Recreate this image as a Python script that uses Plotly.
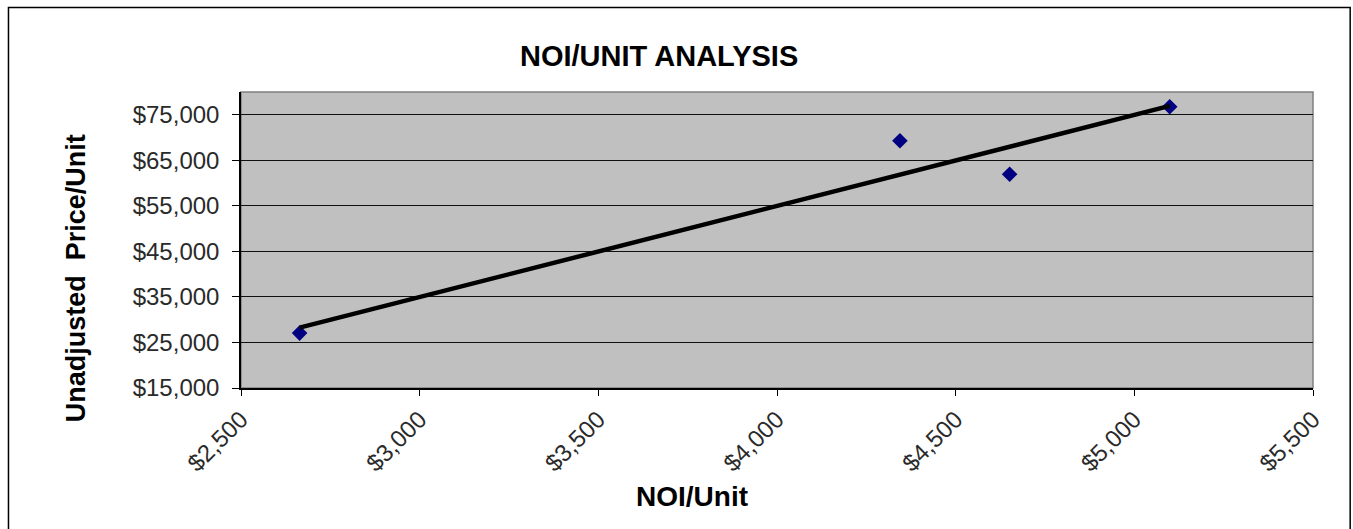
import numpy as np
import plotly.graph_objects as go

# Data
noi_per_unit = [2664, 4344, 4651, 5099]
price_per_unit = [27060, 69300, 61930, 76750]

x_ticks = [2500, 3000, 3500, 4000, 4500, 5000, 5500]
x_tick_labels = ["$2,500", "$3,000", "$3,500", "$4,000", "$4,500", "$5,000", "$5,500"]
y_ticks = [15000, 25000, 35000, 45000, 55000, 65000, 75000]
y_tick_labels = ["$15,000", "$25,000", "$35,000", "$45,000", "$55,000", "$65,000", "$75,000"]

# Linear trend line (least squares, as in the spreadsheet's trendline)
slope, intercept = np.polyfit(noi_per_unit, price_per_unit, 1)
trend_x = [min(noi_per_unit), max(noi_per_unit)]
trend_y = [slope * v + intercept for v in trend_x]

W, H = 1353, 529
L, R, T, B = 240.7, 1313.5, 91.7, 388.3

fig = go.Figure()
fig.add_trace(go.Scatter(
    x=noi_per_unit, y=price_per_unit, mode="markers",
    marker=dict(symbol="diamond", size=12, color="#000080", line=dict(width=0)),
    showlegend=False, hoverinfo="x+y"))
fig.add_trace(go.Scatter(
    x=trend_x, y=trend_y, mode="lines",
    line=dict(color="black", width=4.5),
    showlegend=False, hoverinfo="skip"))

tickfont = dict(family="Liberation Sans, Arial, sans-serif", size=24, color="#2a2a2a")

fig.update_layout(
    width=W, height=H, autosize=False,
    margin=dict(l=L, r=W - R, t=T, b=H - B, pad=0),
    paper_bgcolor="white", plot_bgcolor="#C0C0C0",
    xaxis=dict(range=[2500, 5500], tickvals=x_ticks, ticktext=x_tick_labels,
               tickangle=-45, tickfont=tickfont, ticks="outside", ticklen=6,
               tickcolor="black", showgrid=False, zeroline=False,
               showline=True, linecolor="black", linewidth=1.5),
    yaxis=dict(range=[15000, 80000], tickvals=y_ticks, ticktext=y_tick_labels,
               tickfont=tickfont, ticks="outside", ticklen=7, tickcolor="black",
               ticklabelstandoff=8,
               showgrid=True, gridcolor="#111111", gridwidth=1.4, zeroline=False,
               showline=True, linecolor="black", linewidth=1.5),
    shapes=[
        # plot-area border (gray on top/right)
        dict(type="rect", xref="paper", yref="paper", x0=0, x1=1, y0=0, y1=1,
             line=dict(color="#808080", width=1.5), layer="below"),
        # outer chart border
        dict(type="rect", xref="paper", yref="paper",
             x0=(8 - L) / (R - L), x1=(1350.7 - L) / (R - L),
             y0=(B - 540) / (B - T), y1=(B - 7) / (B - T),
             line=dict(color="black", width=1.5)),
    ],
    annotations=[
        dict(text="<b>NOI/UNIT ANALYSIS</b>", xref="paper", yref="paper",
             x=(659 - L) / (R - L), y=(B - 56) / (B - T), showarrow=False,
             xanchor="center", yanchor="middle",
             font=dict(family="Liberation Sans, Arial, sans-serif", size=29, color="black")),
        dict(text="<b>NOI/Unit</b>", xref="paper", yref="paper",
             x=(692 - L) / (R - L), y=(B - 497) / (B - T), showarrow=False,
             xanchor="center", yanchor="middle",
             font=dict(family="Liberation Sans, Arial, sans-serif", size=28, color="black")),
        dict(text="<b>Unadjusted  Price/Unit</b>", xref="paper", yref="paper",
             x=(76 - L) / (R - L), y=(B - 278) / (B - T), showarrow=False,
             textangle=-90, xanchor="center", yanchor="middle",
             font=dict(family="Liberation Sans, Arial, sans-serif", size=27, color="black")),
    ],
)

fig.write_html("out.html")
